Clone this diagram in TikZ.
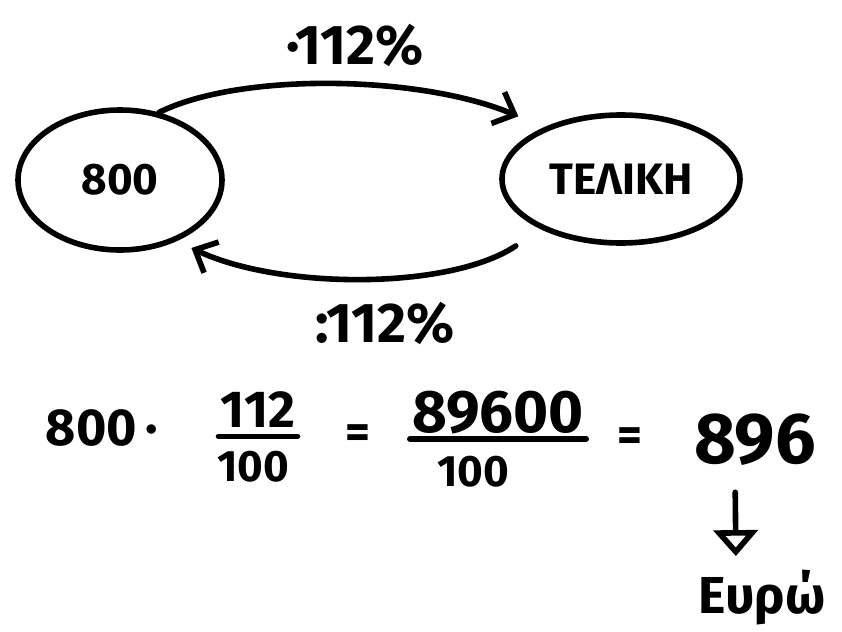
\documentclass[tikz,border=0pt]{standalone}
\usepackage{fontspec}
\setmainfont{Fira Sans}
\usepackage{tikz}
\usetikzlibrary{shapes.geometric, arrows.meta, positioning}

\tikzset{
	pen/.style={line width=2.8pt, line cap=round, line join=round},
	blob/.style={pen, draw, ellipse, inner sep=0pt},
	hand/.style={font=\fontsize{#1}{#1}\selectfont\bfseries, inner sep=1pt},
	barb/.style={pen, -{Straight Barb[length=9pt, width=17pt]}},
}

\begin{document}
\begin{tikzpicture}[x=0.5pt, y=-0.5pt]
	
	%//picture in pixel units, origin top left
	\useasboundingbox (0,0) rectangle (842,632);
	
	\node [blob, hand=22pt, minimum width=102pt, minimum height=70pt] (start) at (120,180) {800};
	\node [blob, hand=22pt, minimum width=119pt, minimum height=64pt] (final) at (621,179) {ΤΕΛΙΚΗ};
	
	\draw [barb, shorten >=14pt] (start.60) .. controls (240,72) and (420,75) .. (final.146);
	\draw [barb, shorten <=15pt, shorten >=8pt] (final.212) .. controls (450,290) and (280,290) .. (start.-47);
	
	\node [hand=28pt] (up) at (355,45) {·112\%};
	\node [hand=28pt] (down) at (385,323) {:112\%};
	
	%//the calculation
	\node [hand=26pt] (lhs) at (102,428) {800\,·};
	\node [hand=26pt] (numA) at (258,410) {112};
	\node [hand=22pt] (denA) at (253,467) {100};
	\draw [pen] ([yshift=-3pt]numA.south west) -- ([yshift=-3pt]numA.south east);
	\node [hand=24pt] (eqA) at (358,437) {=};
	\node [hand=30pt] (numB) at (498,413) {89600};
	\node [hand=22pt] (denB) at (473,472) {100};
	\draw [pen] ([yshift=-1pt]numB.south west) -- ([yshift=-1pt]numB.south east);
	\node [hand=24pt] (eqB) at (630,440) {=};
	\node [hand=36pt] (res) at (755,440) {896};
	
	\node [hand=26pt] (unit) at (762,598) {Ευρώ};
	\draw [pen, -{Triangle[open, length=13pt, width=22pt]}, shorten <=12pt, shorten >=6pt]
		([xshift=-10pt]res.south) -- ([xshift=-13pt]unit.north);
	
\end{tikzpicture}
\end{document}
